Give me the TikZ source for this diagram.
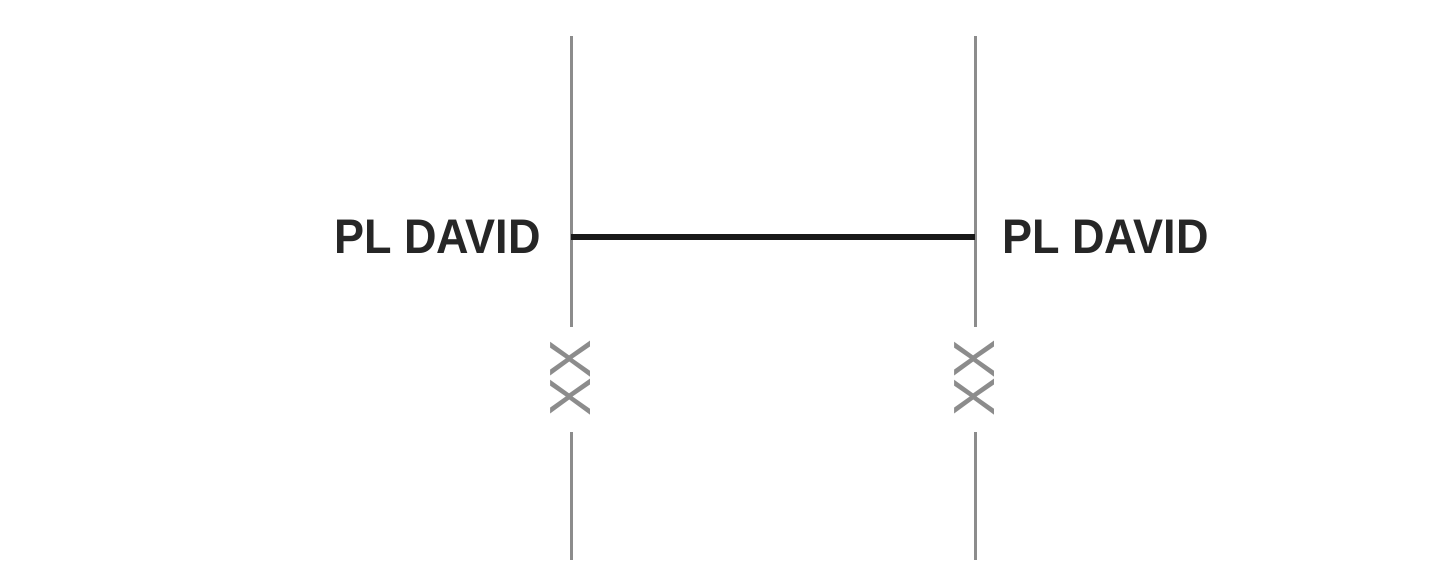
\documentclass[tikz,border=0pt]{standalone}
\usepackage{fontspec}
\setmainfont{Liberation Sans}
\begin{document}
\begin{tikzpicture}[x=1pt,y=-1pt,
  rail/.style={draw=black!45,line width=3pt},
  link/.style={draw=black!90,line width=5.5pt},
  lbl/.style={font=\fontsize{45}{45}\selectfont\bfseries,text=black!85,inner sep=0pt,yscale=1.08},
  xx/.style={font=\fontsize{58}{58}\selectfont,text=black!45,inner sep=0pt,rotate=90}]
\useasboundingbox (0,0) rectangle (1440,570);
\coordinate (lt) at (571,36);
\coordinate (lg1) at (571,327);
\coordinate (lg2) at (571,432);
\coordinate (lb) at (571,560);
\coordinate (rt) at (975,36);
\coordinate (rg1) at (975,327);
\coordinate (rg2) at (975,432);
\coordinate (rb) at (975,560);
\coordinate (lm) at (571,237);
\coordinate (rm) at (975,237);
\draw[rail] (lt) -- (lg1) (lg2) -- (lb);
\draw[rail] (rt) -- (rg1) (rg2) -- (rb);
\draw[link] (lm) -- (rm);
\node[lbl,anchor=east] (ll) at (541,237) {PL DAVID};
\node[lbl,anchor=west] (rl) at (1002,237) {PL DAVID};
\node[xx] (lx) at (571,378) {XX};
\node[xx] (rx) at (975,378) {XX};
\end{tikzpicture}
\end{document}
